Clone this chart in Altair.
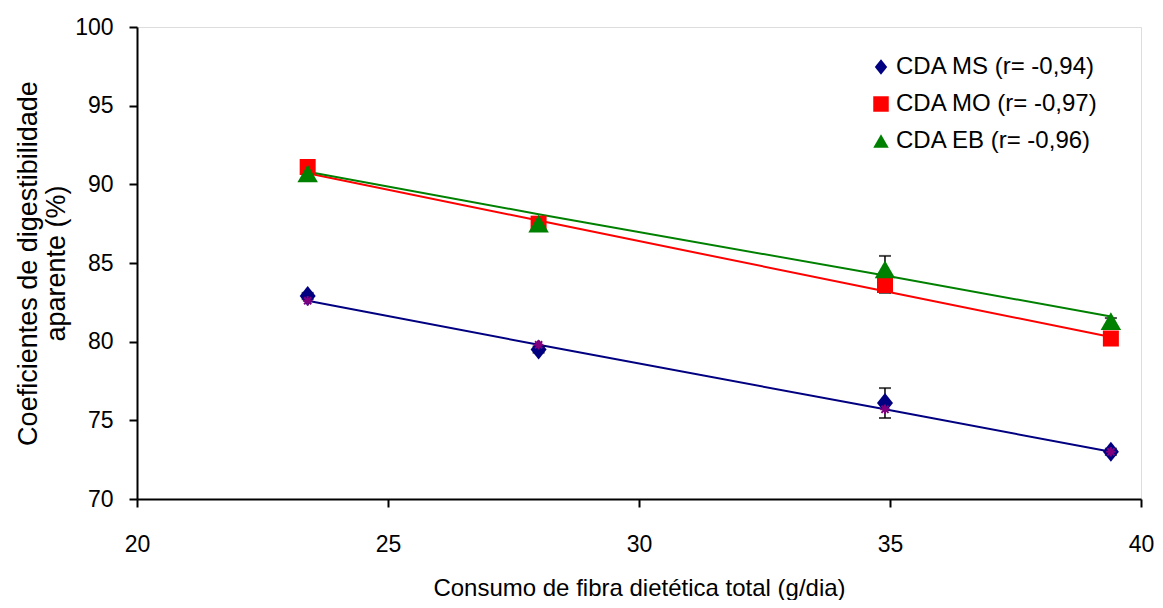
import altair as alt
import pandas as pd

# ---- data ----
fibra = [23.4, 28.0, 34.9, 39.4]
series = ["CDA MS (r= -0,94)", "CDA MO (r= -0,97)", "CDA EB (r= -0,96)"]

ms_obs = [82.9, 79.5, 76.1, 73.0]
mo_obs = [91.1, 87.5, 83.6, 80.2]
eb_obs = [90.7, 87.5, 84.6, 81.3]

ms_fit = [82.6, 79.8, 75.7, 73.0]
mo_fit = [90.7, 87.7, 83.2, 80.3]
eb_fit = [90.8, 88.1, 84.2, 81.6]

ms_err = [0.2, 0.2, 0.95, 0.2]
mo_err = [0.2, 0.2, 0.5, 0.2]
eb_err = [0.2, 0.2, 0.85, 0.2]

rows = []
for name, obs, fit, err in zip(series, [ms_obs, mo_obs, eb_obs],
                               [ms_fit, mo_fit, eb_fit], [ms_err, mo_err, eb_err]):
    for xv, o, f, e in zip(fibra, obs, fit, err):
        rows.append({"serie": name, "x": xv, "y": o, "fit": f,
                     "lo": o - e, "hi": o + e})
df = pd.DataFrame(rows)

FONT = "Liberation Sans Narrow, Arial Narrow, Liberation Sans, Arial"
colors = ["#000080", "#FF0000", "#008000"]
shapes = ["M0,-1L0.8,0L0,1L-0.8,0Z", "square", "triangle-up"]
sizes = [400, 256, 420]

xs = alt.Scale(domain=[20, 40], nice=False, zero=False)
ys = alt.Scale(domain=[70, 100], nice=False, zero=False)

xenc = alt.X("x:Q", scale=xs,
             axis=alt.Axis(values=[20, 25, 30, 35, 40], title="Consumo de fibra dietética total (g/dia)",
                           grid=False, domainColor="black", domainWidth=2, tickColor="black",
                           tickWidth=2, tickSize=8, labelFont=FONT, labelFontSize=23,
                           labelColor="black", labelPadding=26, labelFlush=False,
                           labelOverlap=False, titleFont=FONT,
                           titleFontSize=24, titleFontWeight="normal", titleColor="black",
                           titlePadding=20))
yenc = alt.Y("y:Q", scale=ys,
             axis=alt.Axis(values=[70, 75, 80, 85, 90, 95, 100],
                           title=["Coeficientes de digestibilidade", "aparente (%)"],
                           grid=False, domainColor="black", domainWidth=2, tickColor="black",
                           tickWidth=2, tickSize=8, labelFont=FONT, labelFontSize=23,
                           labelColor="black", labelPadding=16, labelFlush=False,
                           labelOverlap=False, titleFont="Liberation Sans, Arial",
                           titleFontSize=27, titleFontWeight="normal", titleColor="black",
                           titlePadding=4, titleLineHeight=28))

base = alt.Chart(df)

lines = []
for name, col in zip(series, colors):
    lines.append(base.transform_filter(alt.datum.serie == name).mark_line(
        color=col, strokeWidth=2).encode(x=xenc, y=alt.Y("fit:Q", scale=ys)))

err_rule = base.mark_rule(color="black", strokeWidth=1.5).encode(
    x=alt.X("x:Q", scale=xs), y=alt.Y("lo:Q", scale=ys), y2="hi:Q")
err_lo = base.mark_tick(color="black", orient="horizontal", size=12, thickness=2).encode(
    x=alt.X("x:Q", scale=xs), y=alt.Y("lo:Q", scale=ys))
err_hi = base.mark_tick(color="black", orient="horizontal", size=12, thickness=2).encode(
    x=alt.X("x:Q", scale=xs), y=alt.Y("hi:Q", scale=ys))

# legend-carrying layer
pts = base.mark_point(filled=True, opacity=1, size=200).encode(
    x=alt.X("x:Q", scale=xs), y=yenc,
    color=alt.Color("serie:N", scale=alt.Scale(domain=series, range=colors),
                    legend=alt.Legend(title=None, orient="none", legendX=732, legendY=28,
                                      labelFont=FONT, labelFontSize=24, labelColor="black",
                                      labelLimit=400, symbolSize=240, rowPadding=13,
                                      labelOffset=3, symbolOpacity=1)),
    shape=alt.Shape("serie:N", scale=alt.Scale(domain=series, range=shapes)))

star = base.transform_filter(alt.datum.serie == series[0]).mark_point(
    shape="M-1,0L1,0M0,-1L0,1M-0.75,-0.75L0.75,0.75M-0.75,0.75L0.75,-0.75",
    color="#800080", filled=False, strokeWidth=2, size=90, opacity=1).encode(
    x=alt.X("x:Q", scale=xs), y=alt.Y("fit:Q", scale=ys))

marks = []
for name, col, shp, sz in zip(series, colors, shapes, sizes):
    marks.append(base.transform_filter(alt.datum.serie == name).mark_point(
        filled=True, opacity=1, shape=shp, size=sz, color=col).encode(
        x=alt.X("x:Q", scale=xs), y=alt.Y("y:Q", scale=ys)))

chart = alt.layer(*lines, err_rule, err_lo, err_hi, pts, marks[0], star, marks[1], marks[2]).properties(
    width=1004, height=472,
    autosize=alt.AutoSizeParams(type="none"),
    padding={"left": 129, "top": 19, "right": 14, "bottom": 101},
).configure_view(stroke=None).configure(background="white")

chart.save("out.html", embed_options={"renderer": "svg", "actions": False})
